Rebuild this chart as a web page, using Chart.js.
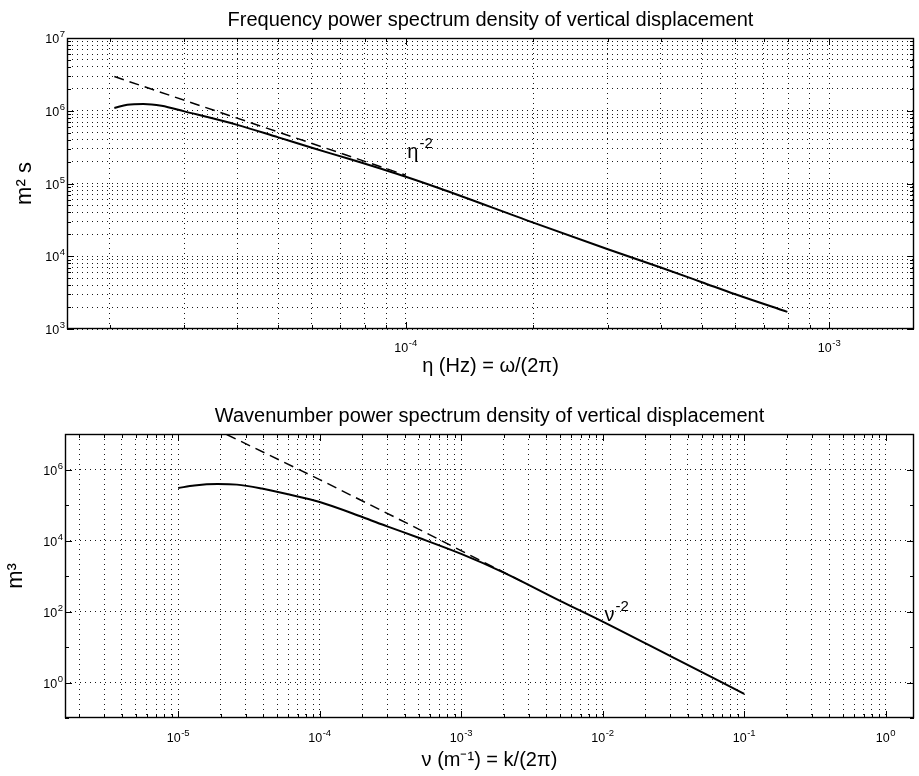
<!DOCTYPE html>
<html>
<head>
<meta charset="utf-8">
<title>Power spectrum density of vertical displacement</title>
<script src="https://cdn.jsdelivr.net/npm/chart.js@4.4.1/dist/chart.umd.min.js"></script>
<style>
  html, body { margin: 0; padding: 0; background: #fff; }
  #wrap { position: relative; width: 919px; height: 776px; }
  canvas { position: absolute; left: 0; }
  #freqChart { top: 0; }
  #waveChart { top: 390px; }
</style>
</head>
<body>
<div id="wrap">
  <canvas id="freqChart" width="919" height="390"></canvas>
  <canvas id="waveChart" width="919" height="386"></canvas>
</div>
<script>
// --- values ---

// top panel: frequency spectrum (eta in Hz, PSD in m^2 s)
const freqHz  = [2.05e-5, 2.2e-5, 2.4e-5, 2.65e-5, 3e-5, 4e-5, 5e-5, 6e-5, 7.5e-5, 1e-4, 1.2e-4, 2e-4, 3e-4, 4e-4, 5e-4, 6e-4, 7.96e-4];
const freqPsd = [1.09e6, 1.21e6, 1.24e6, 1.17e6, 9.8e5, 6.4e5, 4.3e5, 3.1e5, 2.1e5, 1.24e5, 8.6e4, 2.9e4, 1.25e4, 7.0e3, 4.4e3, 3.0e3, 1.72e3];
// dashed eta^-2 reference line
const freqRefHz  = [2.05e-5, 1e-4];
const freqRefPsd = [2.95e6, 1.3e5];

// bottom panel: wavenumber spectrum (nu in 1/m, PSD in m^3)
const waveNu  = [1.0e-5, 1.3e-5, 1.9e-5, 2.6e-5, 3.9e-5, 6e-5, 1e-4, 2e-4, 3e-4, 5e-4, 1e-3, 2e-3, 5e-3, 1e-2, 3.16e-2, 0.1];
const wavePsd = [3.0e5, 3.55e5, 3.9e5, 3.75e5, 2.9e5, 2.0e5, 1.22e5, 4.6e4, 2.5e4, 1.2e4, 4.2e3, 1.25e3, 2.0e2, 52, 5.0, 0.48];
// dashed nu^-2 reference line
const waveRefNu  = [2.2e-5, 1e-4, 5e-4, 3e-3];
const waveRefPsd = [9.7e6, 5.2e5, 2.1e4, 5.6e2];

// labelled ticks and their exponents (drawn as 10 with a raised exponent)
const freqXLabelVals = [1e-4, 1e-3];
const freqXExps      = ['-4', '-3'];
const freqYLabelVals = [1e3, 1e4, 1e5, 1e6, 1e7];
const freqYExps      = ['3', '4', '5', '6', '7'];
const waveXLabelVals = [1e-5, 1e-4, 1e-3, 1e-2, 1e-1, 1];
const waveXExps      = ['-5', '-4', '-3', '-2', '-1', '0'];
const waveYLabelVals = [1, 1e2, 1e4, 1e6];
const waveYExps      = ['0', '2', '4', '6'];

const FONT = "'Liberation Sans', Arial, Helvetica, sans-serif";

// 1..9 x 10^n between lo and hi (minor = true), or just the decades
function logTicks(lo, hi, minor) {
  const out = [];
  for (let e = Math.floor(Math.log10(lo)); e <= Math.ceil(Math.log10(hi)); e++) {
    const mults = minor ? [1, 2, 3, 4, 5, 6, 7, 8, 9] : [1];
    mults.forEach(m => {
      const v = m * Math.pow(10, e);
      if (v >= lo * 0.999 && v <= hi * 1.001) out.push(v);
    });
  }
  return out;
}

function findExp(v, vals, exps) {
  const i = vals.findIndex(t => Math.abs(Math.log10(t) - Math.log10(v)) < 1e-6);
  return i < 0 ? null : exps[i];
}

function pairs(xs, ys) {
  return xs.map((x, i) => ({ x: x, y: ys[i] }));
}

function logAxis(o) {
  return {
    type: 'logarithmic',
    min: o.min,
    max: o.max,
    afterBuildTicks: (scale) => {
      scale.ticks = o.ticks.map(v => ({ value: v, major: findExp(v, o.labelVals, o.exps) !== null }));
    },
    afterFit: (scale) => {
      if (o.width) scale.width = o.width;
      if (o.height) scale.height = o.height;
    },
    ticks: {
      display: false,
      autoSkip: false,
      maxRotation: 0,
      callback: (v) => {
        const e = findExp(v, o.labelVals, o.exps);
        return e === null ? '' : '10^' + e;
      }
    },
    grid: {
      drawTicks: false,
      lineWidth: 1,
      color: (ctx) => {
        if (!ctx.tick) return 'rgba(0,0,0,0)';
        if (o.gridAll || findExp(ctx.tick.value, o.labelVals, o.exps) !== null) return 'rgba(0,0,0,0.9)';
        return 'rgba(0,0,0,0)';
      }
    },
    border: { display: false, dash: [1, 4] },
    title: {
      display: true,
      text: o.title,
      color: '#000',
      font: { family: FONT, size: o.titleSize || 20 },
      padding: o.titlePad
    }
  };
}

// box around the plot and inward tick marks on all four sides
const frame = {
  id: 'frame',
  afterDatasetsDraw(chart) {
    const { ctx, chartArea: a, scales } = chart;
    ctx.save();
    ctx.strokeStyle = '#000';
    ctx.lineWidth = 1;
    ctx.beginPath();
    scales.x.ticks.forEach(t => {
      const px = Math.round(scales.x.getPixelForValue(t.value)) + 0.5;
      const len = t.major ? 7 : 4;
      ctx.moveTo(px, a.bottom); ctx.lineTo(px, a.bottom - len);
      ctx.moveTo(px, a.top); ctx.lineTo(px, a.top + len);
    });
    scales.y.ticks.forEach(t => {
      const py = Math.round(scales.y.getPixelForValue(t.value)) + 0.5;
      const len = t.major ? 7 : 4;
      ctx.moveTo(a.left, py); ctx.lineTo(a.left + len, py);
      ctx.moveTo(a.right, py); ctx.lineTo(a.right - len, py);
    });
    ctx.stroke();
    ctx.lineWidth = 1.4;
    ctx.strokeRect(Math.round(a.left) + 0.5, Math.round(a.top) + 0.5,
                   Math.round(a.right - a.left) - 1, Math.round(a.bottom - a.top) - 1);
    ctx.restore();
  }
};

// tick labels as "10" with a raised exponent
const expLabels = {
  id: 'expLabels',
  afterDraw(chart, args, opts) {
    const { ctx, chartArea: a, scales } = chart;
    const baseFont = '12.5px ' + FONT;
    const supFont = '9.5px ' + FONT;
    ctx.save();
    ctx.fillStyle = '#000';
    ctx.textBaseline = 'alphabetic';
    ctx.textAlign = 'left';
    function widths(e) {
      ctx.font = baseFont;
      const w1 = ctx.measureText('10').width;
      ctx.font = supFont;
      return [w1, ctx.measureText(e).width];
    }
    function put(e, x, y) {
      const [w1] = widths(e);
      ctx.font = baseFont;
      ctx.fillText('10', x, y);
      ctx.font = supFont;
      ctx.fillText(e, x + w1 + 0.5, y - 6);
    }
    opts.x.vals.forEach((v, i) => {
      const e = opts.x.exps[i];
      const [w1, w2] = widths(e);
      const px = scales.x.getPixelForValue(v);
      put(e, px - (w1 + w2 + 0.5) / 2, a.bottom + opts.x.dy);
    });
    opts.y.vals.forEach((v, i) => {
      const e = opts.y.exps[i];
      const [w1, w2] = widths(e);
      const py = scales.y.getPixelForValue(v);
      put(e, a.left - 2 - (w1 + w2 + 0.5), py + 5);
    });
    ctx.restore();
  }
};

// power-law labels placed in data coordinates
const notes = {
  id: 'notes',
  afterDatasetsDraw(chart, args, opts) {
    const { ctx, scales } = chart;
    ctx.save();
    ctx.fillStyle = '#000';
    ctx.textBaseline = 'alphabetic';
    (opts.items || []).forEach(n => {
      const px = scales.x.getPixelForValue(n.x);
      const py = scales.y.getPixelForValue(n.y);
      ctx.font = '20px ' + FONT;
      ctx.fillText(n.base, px, py);
      const w = ctx.measureText(n.base).width;
      ctx.font = '15px ' + FONT;
      ctx.fillText(n.sup, px + w + 1, py - 10);
    });
    ctx.restore();
  }
};

function makeChart(id, cfg) {
  return new Chart(document.getElementById(id).getContext('2d'), {
    type: 'line',
    data: {
      datasets: [
        {
          data: pairs(cfg.refX, cfg.refY),
          borderColor: '#000',
          borderWidth: 1.5,
          borderDash: [10, 6],
          pointRadius: 0,
          fill: false
        },
        {
          data: pairs(cfg.x, cfg.y),
          borderColor: '#000',
          borderWidth: 2,
          pointRadius: 0,
          cubicInterpolationMode: 'monotone',
          fill: false
        }
      ]
    },
    options: {
      responsive: false,
      animation: false,
      devicePixelRatio: 1,
      layout: { padding: { left: 0, right: 5, top: 0, bottom: 0 } },
      plugins: {
        legend: { display: false },
        tooltip: { enabled: false },
        title: {
          display: true,
          fullSize: false,
          text: cfg.title,
          color: '#000',
          font: { family: FONT, size: 20, weight: 'normal' },
          padding: cfg.titlePad
        },
        notes: { items: cfg.notes },
        expLabels: {
          x: { vals: cfg.xAxis.labelVals, exps: cfg.xAxis.exps, dy: cfg.xAxis.labelDy },
          y: { vals: cfg.yAxis.labelVals, exps: cfg.yAxis.exps }
        }
      },
      scales: {
        x: Object.assign(logAxis(cfg.xAxis), { position: 'bottom' }),
        y: Object.assign(logAxis(cfg.yAxis), { position: 'left' })
      }
    },
    plugins: [frame, notes, expLabels]
  });
}

// Frequency spectrum
makeChart('freqChart', {
  title: 'Frequency power spectrum density of vertical displacement',
  titlePad: { top: 8, bottom: 6 },
  x: freqHz, y: freqPsd, refX: freqRefHz, refY: freqRefPsd,
  notes: [{ x: 1.008e-4, y: 2.24e5, base: 'η', sup: '-2' }],
  xAxis: {
    min: Math.pow(10, -4.8), max: Math.pow(10, -2.8),
    ticks: logTicks(Math.pow(10, -4.8), Math.pow(10, -2.8), true),
    labelVals: freqXLabelVals, exps: freqXExps, gridAll: true,
    height: 61, labelDy: 23,
    title: 'η (Hz) = ω/(2π)', titlePad: { top: 0, bottom: 12 }
  },
  yAxis: {
    min: 1e3, max: 1e7,
    ticks: logTicks(1e3, 1e7, true),
    labelVals: freqYLabelVals, exps: freqYExps, gridAll: true,
    width: 67,
    title: 'm² s', titleSize: 22, titlePad: { top: 12, bottom: 0 }
  }
});

// Wavenumber spectrum
makeChart('waveChart', {
  title: 'Wavenumber power spectrum density of vertical displacement',
  titlePad: { top: 14, bottom: 6 },
  x: waveNu, y: wavePsd, refX: waveRefNu, refY: waveRefPsd,
  notes: [{ x: 1.03e-2, y: 55, base: 'ν', sup: '-2' }],
  xAxis: {
    min: Math.pow(10, -5.8), max: Math.pow(10, 0.2),
    ticks: logTicks(Math.pow(10, -5.8), Math.pow(10, 0.2), true),
    labelVals: waveXLabelVals, exps: waveXExps, gridAll: true,
    height: 58, labelDy: 24,
    title: 'ν (m⁻¹) = k/(2π)', titlePad: { top: 0, bottom: 4 }
  },
  yAxis: {
    min: 1e-1, max: 1e7,
    ticks: logTicks(1e-1, 1e7, false),
    labelVals: waveYLabelVals, exps: waveYExps, gridAll: false,
    width: 65,
    title: 'm³', titleSize: 22, titlePad: { top: 3, bottom: 0 }
  }
});
</script>
</body>
</html>
